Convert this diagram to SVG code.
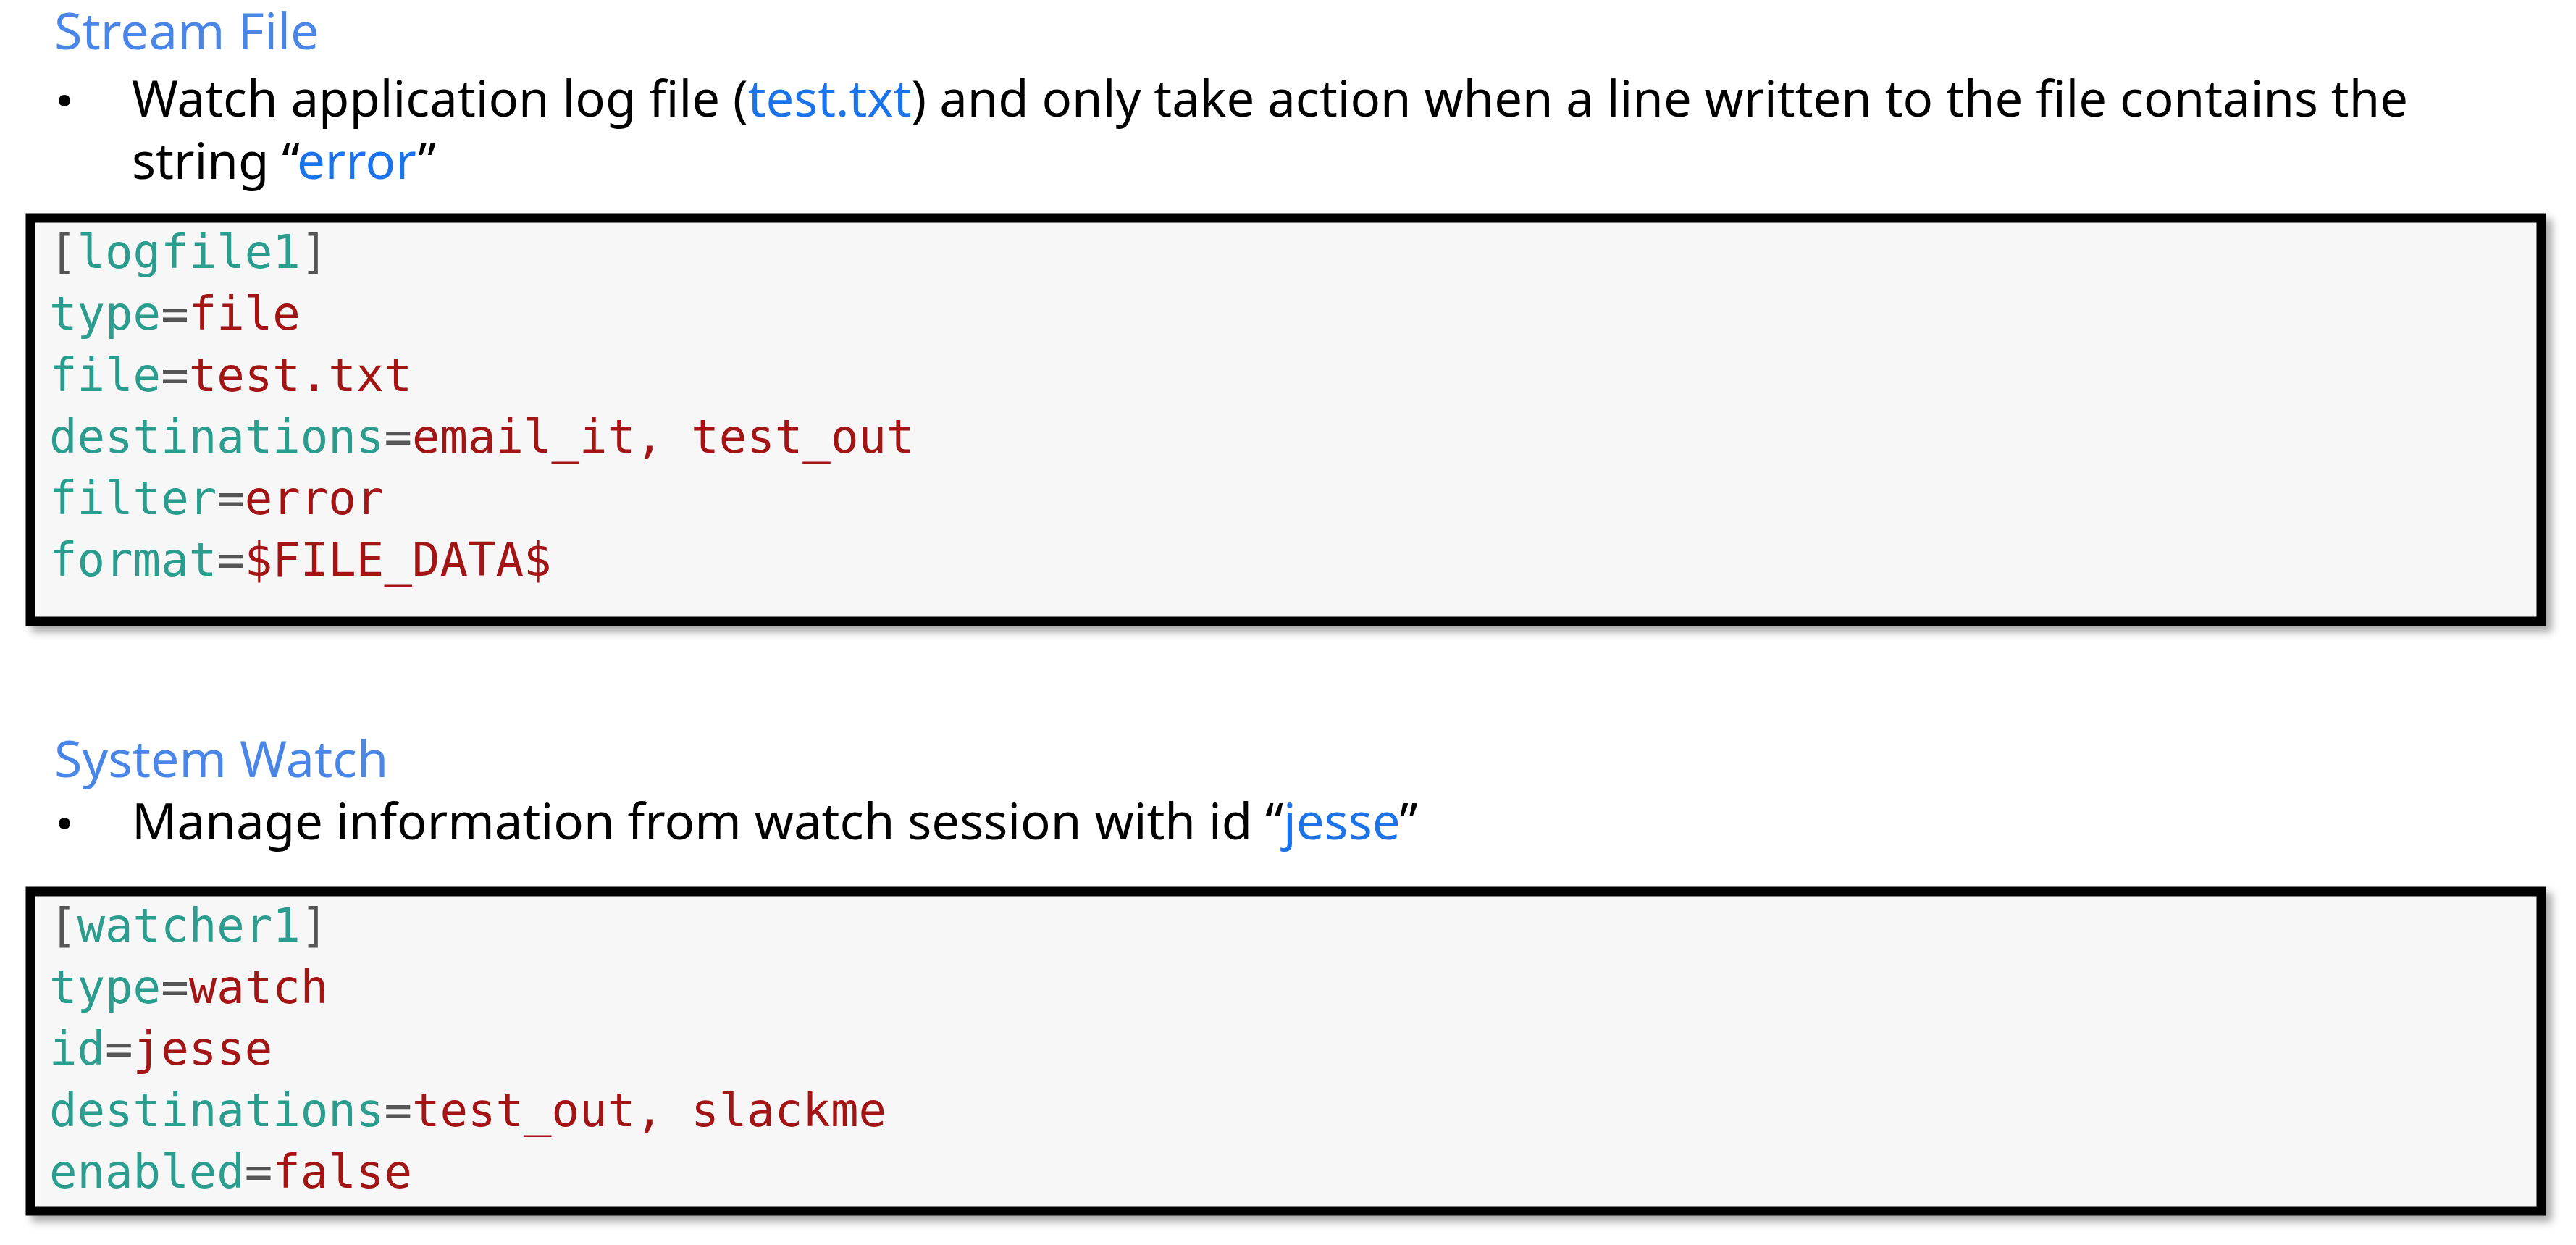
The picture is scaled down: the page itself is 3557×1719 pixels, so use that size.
<svg xmlns="http://www.w3.org/2000/svg" width="3557" height="1719" viewBox="0 0 3557 1719">
<defs>
<filter id="sh" x="-5%" y="-5%" width="110%" height="115%"><feDropShadow dx="8" dy="8" stdDeviation="6" flood-color="#000" flood-opacity="0.35"/></filter>
</defs>
<style>
.t{font-family:"Noto Sans","Liberation Sans",sans-serif;font-size:69px;fill:#000}
.h{fill:#4a86e8;font-size:70px}
.b{fill:#1a73e8}
.c{font-family:"DejaVu Sans Mono","Liberation Mono",monospace;font-size:64px;fill:#2a9d8f}
.v{fill:#a31515}
.g{fill:#555}
.box{fill:#f7f7f7;stroke:#000;stroke-width:13}
</style>
<rect width="3557" height="1719" fill="#fff"/>
<g id="stream">
<text class="t h" x="75" y="68">Stream File</text>
<circle cx="89" cy="139" r="8" fill="#000"/>
<text class="t" x="182" y="161" textLength="3143" lengthAdjust="spacingAndGlyphs">Watch application log file (<tspan class="b">test.txt</tspan>) and only take action when a line written to the file contains the</text>
<text class="t" x="182" y="247">string “<tspan class="b">error</tspan>”</text>
<rect class="box" x="42" y="301" width="3467" height="557" filter="url(#sh)"/>
<text class="c" x="68" y="370"><tspan class="g">[</tspan>logfile1<tspan class="g">]</tspan></text>
<text class="c" x="68" y="455">type<tspan class="g">=</tspan><tspan class="v">file</tspan></text>
<text class="c" x="68" y="540">file<tspan class="g">=</tspan><tspan class="v">test.txt</tspan></text>
<text class="c" x="68" y="625">destinations<tspan class="g">=</tspan><tspan class="v">email_it, test_out</tspan></text>
<text class="c" x="68" y="710">filter<tspan class="g">=</tspan><tspan class="v">error</tspan></text>
<text class="c" x="68" y="795">format<tspan class="g">=</tspan><tspan class="v">$FILE_DATA$</tspan></text>
</g>
<g id="watch">
<text class="t h" x="75" y="1073">System Watch</text>
<circle cx="89" cy="1137" r="8" fill="#000"/>
<text class="t" x="182" y="1159">Manage information from watch session with id “<tspan class="b">jesse</tspan>”</text>
<rect class="box" x="42" y="1231" width="3467" height="441" filter="url(#sh)"/>
<text class="c" x="68" y="1300"><tspan class="g">[</tspan>watcher1<tspan class="g">]</tspan></text>
<text class="c" x="68" y="1385">type<tspan class="g">=</tspan><tspan class="v">watch</tspan></text>
<text class="c" x="68" y="1470">id<tspan class="g">=</tspan><tspan class="v">jesse</tspan></text>
<text class="c" x="68" y="1555">destinations<tspan class="g">=</tspan><tspan class="v">test_out, slackme</tspan></text>
<text class="c" x="68" y="1640">enabled<tspan class="g">=</tspan><tspan class="v">false</tspan></text>
</g>
<g id="connectors"/>
</svg>
